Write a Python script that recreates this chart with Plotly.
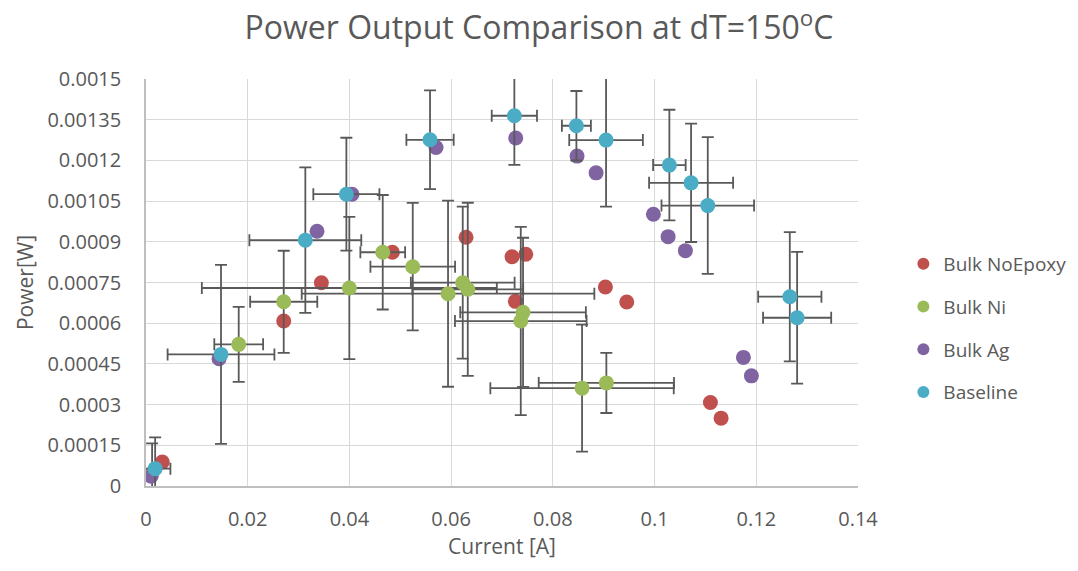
import plotly.graph_objects as go

# Bulk NoEpoxy (no error bars)
noepoxy_i = [0.0032, 0.02708, 0.03448, 0.04844, 0.06293, 0.07198, 0.07467, 0.07263, 0.09033, 0.09453, 0.11098, 0.11308]
noepoxy_p = [8.86e-5, 6.08e-4, 7.49e-4, 8.615e-4, 9.17e-4, 8.45e-4, 8.54e-4, 6.806e-4, 7.334e-4, 6.78e-4, 3.08e-4, 2.5e-4]

# Bulk Ni
ni_i = [0.0012, 0.01823, 0.02708, 0.03998, 0.04655, 0.05245, 0.05939, 0.06228, 0.06327, 0.07414, 0.07369, 0.08574, 0.09052]
ni_p = [4.7e-5, 5.22e-4, 6.79e-4, 7.297e-4, 8.615e-4, 8.083e-4, 7.087e-4, 7.493e-4, 7.249e-4, 6.4e-4, 6.08e-4, 3.606e-4, 3.8e-4]
ni_i_err = [0.0006, 0.0048, 0.0066, 0.029, 0.0044, 0.00832, 0.02877, 0.0102, 0.0109, 0.01235, 0.01294, 0.01803, 0.0133]
ni_p_err = [1.1e-4, 1.38e-4, 1.88e-4, 2.62e-4, 2.11e-4, 2.35e-4, 3.43e-4, 2.8e-4, 3.19e-4, 2.75e-4, 3.47e-4, 2.34e-4, 1.11e-4]

# Bulk Ag (no error bars)
ag_i = [0.001, 0.01436, 0.03363, 0.04051, 0.05703, 0.0727, 0.08476, 0.0885, 0.09977, 0.10266, 0.10606, 0.11747, 0.11904]
ag_p = [3.6e-5, 4.69e-4, 9.39e-4, 1.0755e-3, 1.2476e-3, 1.2823e-3, 1.2158e-3, 1.1542e-3, 1.0017e-3, 9.19e-4, 8.674e-4, 4.739e-4, 4.06e-4]

# Baseline
base_i = [0.0018, 0.01475, 0.03133, 0.0394, 0.05585, 0.07243, 0.08463, 0.09046, 0.10291, 0.10718, 0.11046, 0.12659, 0.12803]
base_p = [6.4e-5, 4.85e-4, 9.06e-4, 1.0755e-3, 1.276e-3, 1.3646e-3, 1.3277e-3, 1.2749e-3, 1.1826e-3, 1.1173e-3, 1.0335e-3, 6.976e-4, 6.2e-4]
base_i_err = [0.003, 0.0105, 0.011, 0.0065, 0.00465, 0.00445, 0.00285, 0.00724, 0.0032, 0.00826, 0.0091, 0.00622, 0.0067]
base_p_err = [1.15e-4, 3.3e-4, 2.68e-4, 2.08e-4, 1.82e-4, 1.81e-4, 1.28e-4, 2.45e-4, 2.04e-4, 2.18e-4, 2.52e-4, 2.38e-4, 2.43e-4]

x_ticks = [0, 0.02, 0.04, 0.06, 0.08, 0.1, 0.12, 0.14]
x_tick_text = ["0", "0.02", "0.04", "0.06", "0.08", "0.1", "0.12", "0.14"]
y_ticks = [0, 0.00015, 0.0003, 0.00045, 0.0006, 0.00075, 0.0009, 0.00105, 0.0012, 0.00135, 0.0015]
y_tick_text = ["0", "0.00015", "0.0003", "0.00045", "0.0006", "0.00075", "0.0009", "0.00105", "0.0012", "0.00135", "0.0015"]

FONT = "Open Sans"
TXT = "#595959"
ERR = "#595959"
MSIZE = 15


def err(vals):
    return dict(type="data", array=vals, symmetric=True, color=ERR, thickness=1.8, width=6)


fig = go.Figure()
fig.add_trace(go.Scatter(x=noepoxy_i, y=noepoxy_p, mode="markers", name="Bulk NoEpoxy",
                         legendgroup="a", marker=dict(color="#C0504D", size=MSIZE)))
fig.add_trace(go.Scatter(x=ni_i, y=ni_p, mode="markers", name="Bulk Ni", legendgroup="b",
                         marker=dict(color="#9BBB59", size=MSIZE),
                         error_x=err(ni_i_err), error_y=err(ni_p_err)))
fig.add_trace(go.Scatter(x=ag_i, y=ag_p, mode="markers", name="Bulk Ag", legendgroup="c",
                         marker=dict(color="#8064A2", size=MSIZE)))
fig.add_trace(go.Scatter(x=base_i, y=base_p, mode="markers", name="Baseline", legendgroup="d",
                         marker=dict(color="#4BACC6", size=MSIZE),
                         error_x=err(base_i_err), error_y=err(base_p_err)))

fig.update_layout(
    width=1078, height=571,
    margin=dict(l=146, r=220, t=79, b=85),
    paper_bgcolor="white", plot_bgcolor="white",
    font=dict(family=FONT, color=TXT),
    title=dict(text="Power Output Comparison at dT=150<sup>o</sup>C",
               x=0.5, xanchor="center", y=0.951, yanchor="middle",
               font=dict(family=FONT, size=32, color=TXT)),
    xaxis=dict(range=[0, 0.14], tickvals=x_ticks, ticktext=x_tick_text,
               showgrid=True, gridcolor="#D9D9D9", gridwidth=1,
               showline=True, linecolor="#BFBFBF", linewidth=1.5,
               zeroline=False, ticks="", tickfont=dict(size=20, color=TXT),
               ticklabelstandoff=14, automargin=False,
               title=dict(text="Current [A]", font=dict(size=21, color=TXT), standoff=8)),
    yaxis=dict(range=[0, 0.0015], tickvals=y_ticks, ticktext=y_tick_text,
               showgrid=True, gridcolor="#D9D9D9", gridwidth=1,
               showline=True, linecolor="#BFBFBF", linewidth=1.5,
               zeroline=False, ticks="", tickfont=dict(size=20, color=TXT),
               ticklabelstandoff=19, automargin=False,
               title=dict(text="Power[W]", font=dict(size=21, color=TXT), standoff=8)),
    legend=dict(xref="container", yref="container", x=0.838, xanchor="left",
                y=0.4256, yanchor="middle",
                font=dict(size=19, color=TXT), traceorder="grouped",
                tracegroupgap=15, itemsizing="constant", itemwidth=30,
                bgcolor="rgba(0,0,0,0)"),
    showlegend=True,
)

fig.write_html("out.html")
